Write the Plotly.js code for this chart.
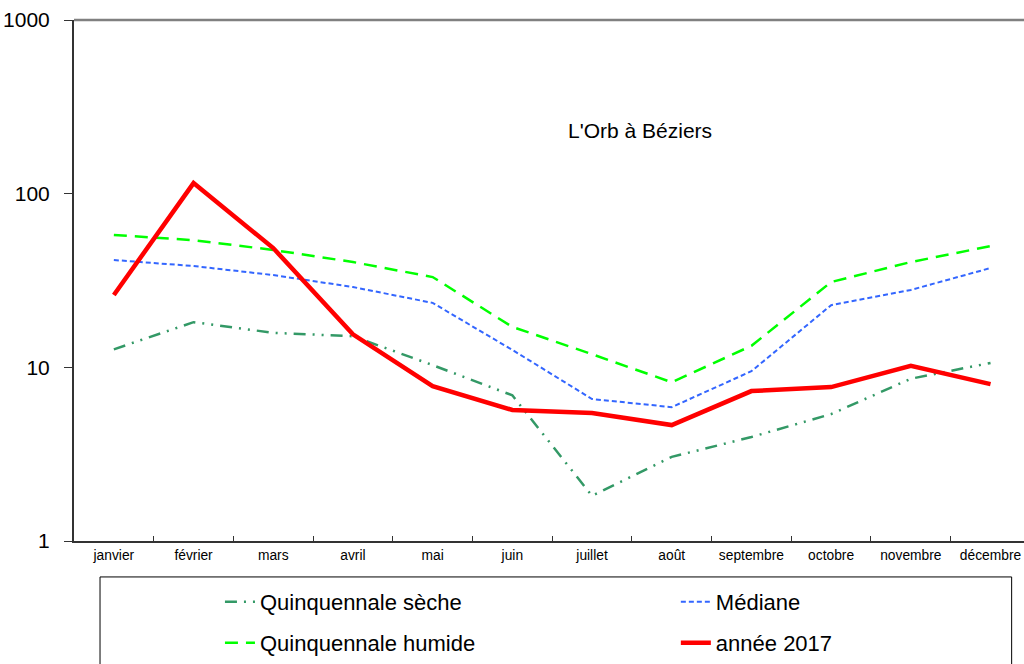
<!DOCTYPE html>
<html>
<head>
<meta charset="utf-8">
<script src="https://cdn.plot.ly/plotly-3.0.1.min.js"></script>
<style>html,body{margin:0;padding:0;background:#fff;}#chart{width:1024px;height:664px;}</style>
</head>
<body>
<div id="chart"></div>
<script>
const months = ["janvier","février","mars","avril","mai","juin","juillet","août","septembre","octobre","novembre","décembre"];
const quinqSeche = [12.7, 18.2, 15.8, 15.1, 10.3, 6.9, 1.82, 3.05, 3.97, 5.38, 8.6, 10.6];
const mediane = [41.5, 38.3, 34.0, 29.0, 23.5, 12.6, 6.57, 5.9, 9.5, 22.8, 27.9, 37.3];
const quinqHumide = [57.8, 54.0, 47.4, 40.4, 33.1, 17.1, 11.9, 8.2, 13.3, 31.0, 40.4, 49.9];
const annee2017 = [26.1, 115, 48.6, 15.5, 7.8, 5.68, 5.46, 4.65, 7.3, 7.7, 10.2, 8.0];
const yTickVals = [1, 10, 100, 1000];
const yTickText = ["1", "10", "100", "1000"];
const chartTitle = "L'Orb à Béziers";

const traces = [
  {x: months, y: quinqSeche, name: "Quinquennale sèche", type: "scatter", mode: "lines",
   line: {color: "#339966", width: 2.5, dash: "12px,7px,2px,7px,2px,7px"}, legend: "legend"},
  {x: months, y: mediane, name: "Médiane", type: "scatter", mode: "lines",
   line: {color: "#3366FF", width: 2, dash: "5px,3px"}, legend: "legend2"},
  {x: months, y: quinqHumide, name: "Quinquennale humide", type: "scatter", mode: "lines",
   line: {color: "#00FF00", width: 2.5, dash: "13px,8px"}, legend: "legend3"},
  {x: months, y: annee2017, name: "année 2017", type: "scatter", mode: "lines",
   line: {color: "#FF0000", width: 4.5}, legend: "legend4"}
];

function leg(x, y) {
  return {orientation: "v", xref: "container", yref: "container", x: x, y: y, xanchor: "left", yanchor: "top",
    bgcolor: "rgba(0,0,0,0)", borderwidth: 0,
    font: {family: "Liberation Sans, Arial, sans-serif", size: 22, color: "#000"}};
}

const layout = {
  width: 1024, height: 664,
  margin: {l: 74, r: 0, t: 20, b: 123, autoexpand: false},
  paper_bgcolor: "#fff", plot_bgcolor: "#fff",
  font: {family: "Liberation Sans, Arial, sans-serif", color: "#000"},
  showlegend: true,
  legend: leg(0.2148, 0.125),
  legend2: leg(0.660, 0.125),
  legend3: leg(0.2148, 0.0633),
  legend4: leg(0.660, 0.0633),
  xaxis: {type: "category", range: [-0.5, 11.42], showgrid: false, zeroline: false,
    showline: true, linecolor: "#333", linewidth: 2, mirror: false,
    ticks: "inside", tickson: "boundaries", ticklen: 5, tickcolor: "#333", tickwidth: 1,
    tickfont: {size: 13.8, color: "#000"}, fixedrange: true},
  yaxis: {type: "log", range: [0, 3], showgrid: false, zeroline: false,
    showline: true, linecolor: "#333", linewidth: 2,
    ticks: "outside", ticklen: 8, tickcolor: "#333", tickwidth: 1, ticklabelstandoff: 10,
    tickvals: yTickVals, ticktext: yTickText, tickfont: {size: 21, color: "#000"}, fixedrange: true},
  shapes: [
    {type: "line", xref: "paper", yref: "paper", x0: 0, x1: 1, y0: 1, y1: 1, line: {color: "#808080", width: 2.5}},
    {type: "rect", xref: "paper", yref: "paper", x0: 0.0274, x1: 0.987, y0: -0.069, y1: -0.26,
     line: {color: "#000", width: 1}, fillcolor: "rgba(0,0,0,0)"}
  ],
  annotations: [
    {text: chartTitle, xref: "paper", yref: "paper", x: 0.596, y: 0.787, xanchor: "center", yanchor: "middle",
     showarrow: false, font: {size: 21, color: "#000"}}
  ]
};

Plotly.newPlot("chart", traces, layout, {displayModeBar: false, staticPlot: true});
</script>
</body>
</html>
